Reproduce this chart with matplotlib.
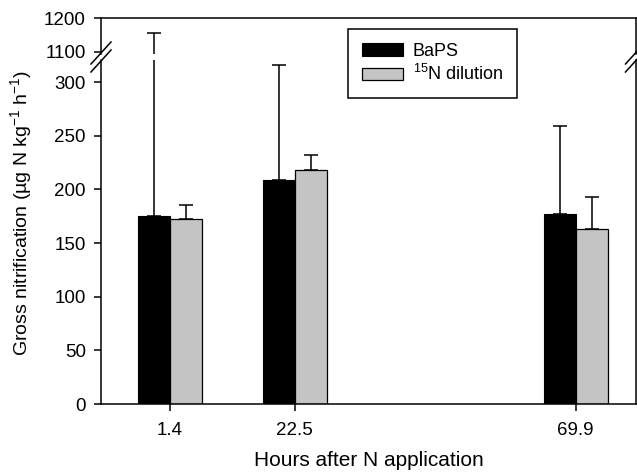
import matplotlib
matplotlib.use("Agg")
import matplotlib.pyplot as plt
from matplotlib.lines import Line2D
from matplotlib.patches import Patch

plt.rcParams['font.family'] = ['Liberation Sans', 'DejaVu Sans']
plt.rcParams['mathtext.fontset'] = 'custom'
plt.rcParams['mathtext.rm'] = 'Liberation Sans'
plt.rcParams['mathtext.it'] = 'Liberation Sans:italic'
plt.rcParams['mathtext.bf'] = 'Liberation Sans:bold'

hours = [1.4, 22.5, 69.9]
tick_labels = ["1.4", "22.5", "69.9"]
baps = [175, 209, 177]
baps_err = [982, 107, 82]
n15 = [172, 218, 163]
n15_err = [13, 14, 30]
lower_ticks = [0, 50, 100, 150, 200, 250, 300]
upper_ticks = [1100, 1200]

W, H = 637, 473
fig = plt.figure(figsize=(W / 100, H / 100), dpi=100)

def fbox(x0, x1, ytop, ybot):
    return [x0 / W, (H - ybot) / H, (x1 - x0) / W, (ybot - ytop) / H]

ax_lo = fig.add_axes(fbox(101, 635.5, 60, 404))
ax_hi = fig.add_axes(fbox(101, 635.5, 18.3, 54.5))

bw = 5.4
gray = "#c4c4c4"
lw = 1.1
for ax in (ax_lo, ax_hi):
    ax.bar(hours, baps, width=-bw, align='edge', color='black', edgecolor='black',
           linewidth=0.8, zorder=2)
    ax.bar(hours, n15, width=bw, align='edge', color=gray, edgecolor='black',
           linewidth=0.9, zorder=2)
    ax.errorbar([h - bw / 2 for h in hours], baps, yerr=[[0] * 3, baps_err], fmt='none',
                ecolor='black', elinewidth=1.1, capsize=4.7, capthick=1.1, zorder=3)
    ax.errorbar([h + bw / 2 for h in hours], n15, yerr=[[0] * 3, n15_err], fmt='none',
                ecolor='black', elinewidth=1.1, capsize=4.7, capthick=1.1, zorder=3)
    ax.set_xlim(-10.2, 80)
    for s in ax.spines.values():
        s.set_linewidth(lw)
    ax.tick_params(axis='both', direction='out', length=5, width=lw, labelsize=13.5)
    ax.tick_params(axis='y', pad=6)

ax_lo.set_ylim(0, 320.6)
ax_lo.set_yticks(lower_ticks)
ax_lo.spines['top'].set_visible(False)
ax_lo.set_xticks(hours)
ax_lo.set_xticklabels(tick_labels)
ax_lo.tick_params(axis='x', pad=8)

ax_hi.set_ylim(1092.5, 1200)
ax_hi.set_yticks(upper_ticks)
ax_hi.spines['bottom'].set_visible(False)
ax_hi.set_xticks([])

# break marks
for xc in (101, 635.5):
    for yc in (53, 61):
        fig.add_artist(Line2D([(xc - 10) / W, (xc + 10) / W],
                              [(H - (yc + 11)) / H, (H - (yc - 11)) / H],
                              color='black', linewidth=1.1))

fig.text(368.5 / W, (H - 466) / H, "Hours after N application", ha='center', va='baseline',
         fontsize=15)
fig.text(21 / W, (H - 213) / H, "Gross nitrification (µg N kg$^{-1}$ h$^{-1}$)",
         rotation=90, ha='center', va='center', fontsize=14)

handles = [Patch(facecolor='black', edgecolor='black', linewidth=0.8),
           Patch(facecolor=gray, edgecolor='black', linewidth=0.9)]
leg = fig.legend(handles, ["BaPS", "$^{15}$N dilution"], loc='upper left',
                 bbox_to_anchor=(348 / W, (H - 29) / H), fontsize=13,
                 fancybox=False, framealpha=1, edgecolor='black', borderaxespad=0,
                 handlelength=2.3, handleheight=0.7, borderpad=0.75,
                 labelspacing=0.25, handletextpad=0.55)
leg.get_frame().set_linewidth(1.1)

fig.savefig("out.png", dpi=100)
